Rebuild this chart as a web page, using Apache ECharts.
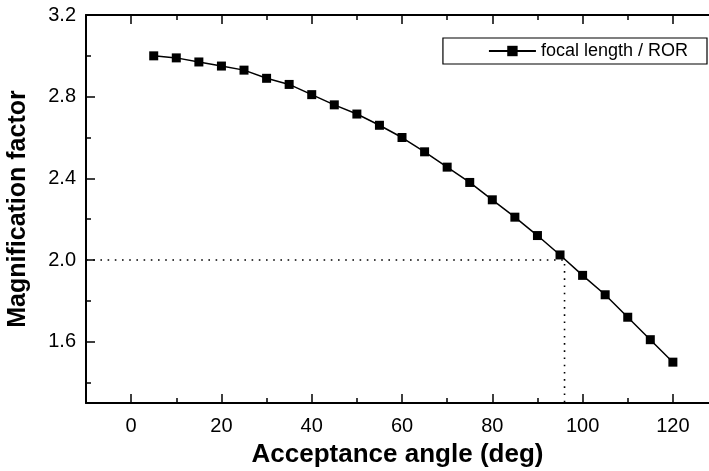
<!DOCTYPE html>
<html><head><meta charset="utf-8">
<script src="https://cdn.jsdelivr.net/npm/echarts@6/dist/echarts.min.js"></script>
<style>html,body{margin:0;padding:0;background:#fff}#c{width:709px;height:471px}</style>
</head><body><div id="c"></div>
<script>
const angles = [5,10,15,20,25,30,35,40,45,50,55,60,65,70,75,80,85,90,95,100,105,110,115,120];
const magnification = [3.00,2.99,2.97,2.95,2.93,2.89,2.86,2.81,2.76,2.715,2.66,2.60,2.53,2.455,2.38,2.295,2.21,2.12,2.025,1.925,1.83,1.72,1.61,1.50];
const guideX = [-10, 96, 96];
const guideY = [2.0, 2.0, 1.3];
const xMajor = [0,20,40,60,80,100,120];
const xMinor = [10,30,50,70,90,110];
const yMajor = [1.6,2.0,2.4,2.8,3.2];
const yMinor = [1.4,1.8,2.2,2.6,3.0];
const seriesName = 'focal length / ROR';

const FONT = '"Liberation Sans", Arial, Helvetica, sans-serif';
const X_MIN = -10, X_MAX = 128, Y_MIN = 1.3, Y_MAX = 3.2;

function xAx(pos, ticks, len, showLine, showLabel, extra) {
  return Object.assign({
    type: 'value', position: pos, min: X_MIN, max: X_MAX,
    axisLine: { show: showLine, onZero: false, lineStyle: { color: '#000', width: 2 } },
    axisTick: { show: true, inside: true, length: len, customValues: ticks, lineStyle: { color: '#000', width: 1.5 } },
    axisLabel: { show: showLabel, customValues: ticks, color: '#000', fontSize: 20, fontFamily: FONT, margin: 13 },
    splitLine: { show: false }
  }, extra || {});
}
function yAx(ticks, len, showLine, showLabel, extra) {
  return Object.assign({
    type: 'value', position: 'left', min: Y_MIN, max: Y_MAX,
    axisLine: { show: showLine, onZero: false, lineStyle: { color: '#000', width: 2 } },
    axisTick: { show: true, inside: true, length: len, customValues: ticks, lineStyle: { color: '#000', width: 1.5 } },
    axisLabel: { show: showLabel, customValues: ticks, color: '#000', fontSize: 20, fontFamily: FONT, margin: 10,
                 formatter: v => v.toFixed(1) },
    splitLine: { show: false }
  }, extra || {});
}

const chart = echarts.init(document.getElementById('c'));
chart.setOption({
  animation: false,
  backgroundColor: '#fff',
  grid: { left: 86, top: 15, right: 0, bottom: 68, containLabel: false, outerBoundsMode: 'none' },
  legend: {
    data: [seriesName], right: 2, top: 38,
    borderColor: '#000', borderWidth: 1.2, borderRadius: 0,
    padding: [4, 19, 4, 45], itemWidth: 47, itemHeight: 13, itemGap: 5,
    textStyle: { color: '#000', fontSize: 18, fontFamily: FONT }
  },
  xAxis: [
    xAx('bottom', xMajor, 9, true, true, {
      name: 'Acceptance angle (deg)', nameLocation: 'middle', nameGap: 39,
      nameTextStyle: { color: '#000', fontSize: 26, fontWeight: 'bold', fontFamily: FONT }
    }),
    xAx('bottom', xMinor, 5, false, false),
    xAx('top', xMajor, 9, true, false),
    xAx('top', xMinor, 5, false, false)
  ],
  yAxis: [
    yAx(yMajor, 9, true, true, {
      name: 'Magnification factor', nameLocation: 'middle', nameGap: 55,
      nameTextStyle: { color: '#000', fontSize: 25, fontWeight: 'bold', fontFamily: FONT }
    }),
    yAx(yMinor, 5, false, false)
  ],
  series: [
    {
      name: seriesName, type: 'line', xAxisIndex: 0, yAxisIndex: 0,
      data: angles.map((a, i) => [a, magnification[i]]),
      symbol: 'rect', symbolSize: 9,
      lineStyle: { color: '#000', width: 1.5 },
      itemStyle: { color: '#000' }
    },
    {
      name: 'guide', type: 'line', xAxisIndex: 0, yAxisIndex: 0,
      data: guideX.map((x, i) => [x, guideY[i]]),
      symbol: 'none', silent: true,
      lineStyle: { color: '#000', width: 1.6, type: [1.6, 5.6] }
    }
  ]
});
</script></body></html>
